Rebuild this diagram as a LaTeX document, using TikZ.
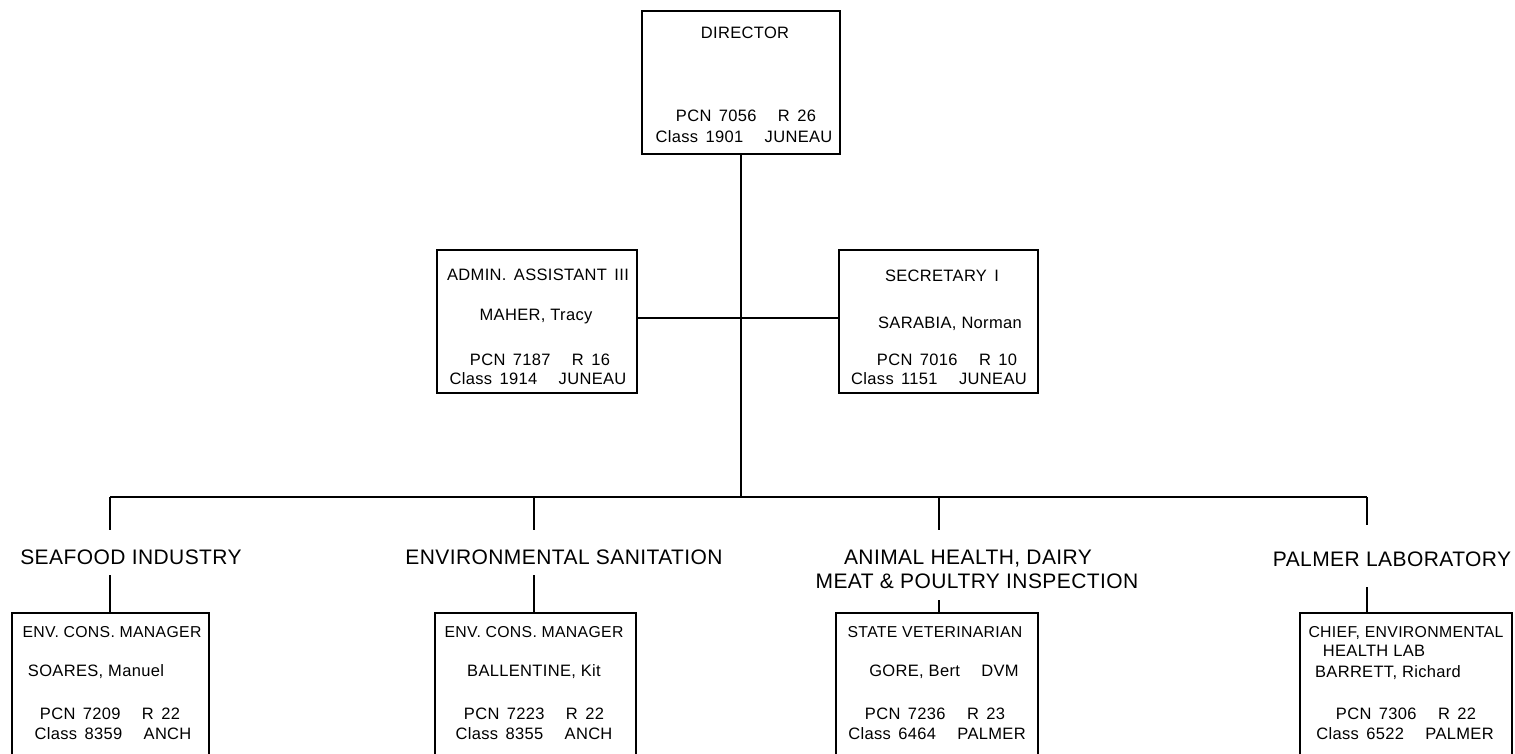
\documentclass[tikz,border=0pt]{standalone}
\usepackage{fontspec}
\setmainfont{Liberation Sans}[LetterSpace=2]
\newcommand\sepg{\hspace{1.3em}}
\newcommand\nsp{\hspace{0.45em}}
\begin{document}
\begin{tikzpicture}[x=1pt,y=-1pt,
  line width=1.4pt,
  box/.style={draw, line width=1.4pt, inner sep=0pt},
  bt/.style={font=\fontsize{16.5}{18}\selectfont, inner sep=0pt, anchor=base},
  btn/.style={font=\fontsize{15.8}{18}\selectfont, inner sep=0pt, anchor=base},
  lbl/.style={font=\fontsize{21}{25}\selectfont, inner sep=0pt, anchor=base},
  wire/.style={draw, line width=1.4pt}
]
\clip (0,0) rectangle (1515,754);
\fill[white] (0,0) rectangle (1515,754);

% ---------- boxes ----------
\node[box, minimum width=198pt, minimum height=143pt] (dir) at (741,82.5) {};
\node[box, minimum width=200pt, minimum height=143pt] (adm) at (537,321.5) {};
\node[box, minimum width=199pt, minimum height=143pt] (sec) at (938.5,321.5) {};
\node[box, minimum width=197pt, minimum height=187pt] (bx1) at (110.5,706.5) {};
\node[box, minimum width=201pt, minimum height=187pt] (bx2) at (535.5,706.5) {};
\node[box, minimum width=202pt, minimum height=187pt] (bx3) at (937,706.5) {};
\node[box, minimum width=212pt, minimum height=187pt] (bx4) at (1406,706.5) {};

% ---------- box texts ----------
\node[bt] (dirT) at (745,39) {DIRECTOR};
\node[bt] (dirP) at (746,122) {PCN\nsp 7056\sepg R\nsp 26};
\node[bt] (dirC) at (744,143) {Class\nsp 1901\sepg JUNEAU};

\node[bt] (admT) at (538,280) {ADMIN.\nsp ASSISTANT\nsp III};
\node[bt] (admN) at (536,320) {MAHER, Tracy};
\node[bt] (admP) at (540,365) {PCN\nsp 7187\sepg R\nsp 16};
\node[bt] (admC) at (538,384) {Class\nsp 1914\sepg JUNEAU};

\node[bt] (secT) at (942,281) {SECRETARY\nsp I};
\node[bt] (secN) at (950,328) {SARABIA, Norman};
\node[bt] (secP) at (947,365) {PCN\nsp 7016\sepg R\nsp 10};
\node[bt] (secC) at (939,384) {Class\nsp 1151\sepg JUNEAU};

\node[btn] (b1T) at (112,637) {ENV.\ CONS.\ MANAGER};
\node[bt] (b1N) at (96,676) {SOARES, Manuel};
\node[bt] (b1P) at (110,719) {PCN\nsp 7209\sepg R\nsp 22};
\node[bt] (b1C) at (113,739) {Class\nsp 8359\sepg ANCH};

\node[btn] (b2T) at (534,637) {ENV.\ CONS.\ MANAGER};
\node[bt] (b2N) at (534,676) {BALLENTINE, Kit};
\node[bt] (b2P) at (534,719) {PCN\nsp 7223\sepg R\nsp 22};
\node[bt] (b2C) at (534,739) {Class\nsp 8355\sepg ANCH};

\node[btn] (b3T) at (935,637) {STATE VETERINARIAN};
\node[bt] (b3N) at (944,676) {GORE, Bert\sepg DVM};
\node[bt] (b3P) at (935,719) {PCN\nsp 7236\sepg R\nsp 23};
\node[bt] (b3C) at (937,739) {Class\nsp 6464\sepg PALMER};

\node[btn] (b4T) at (1406,637) {CHIEF, ENVIRONMENTAL};
\node[bt] (b4H) at (1374,656) {HEALTH LAB};
\node[bt] (b4N) at (1388,677) {BARRETT, Richard};
\node[bt] (b4P) at (1406,719) {PCN\nsp 7306\sepg R\nsp 22};
\node[bt] (b4C) at (1405,739) {Class\nsp 6522\sepg PALMER};

% ---------- division labels ----------
\node[lbl] (l1) at (131,564) {SEAFOOD INDUSTRY};
\node[lbl] (l2) at (564,564) {ENVIRONMENTAL SANITATION};
\node[lbl] (l3a) at (968,564) {ANIMAL HEALTH, DAIRY};
\node[lbl] (l3b) at (977,588) {MEAT \& POULTRY INSPECTION};
\node[lbl] (l4) at (1392,566) {PALMER LABORATORY};

% ---------- bus coordinates ----------
\coordinate (bD) at (741,497);
\coordinate (b1) at (110,497);
\coordinate (b2) at (534,497);
\coordinate (b3) at (939,497);
\coordinate (b4) at (1367,497);
\coordinate (t1) at (110,530);
\coordinate (t2) at (534,530);
\coordinate (t3) at (939,530);
\coordinate (t4) at (1367,525);
\coordinate (u1) at (110,575);
\coordinate (u2) at (534,575);
\coordinate (u3) at (939,600);
\coordinate (u4) at (1367,587);

% ---------- connectors ----------
\draw[wire] (dir.south -| bD) -- (bD);
\draw[wire] ([yshift=3.5pt]adm.east) -- ([yshift=3.5pt]sec.west);
\draw[wire] (b1) -- (b4);
\draw[wire] (b1) -- (t1);
\draw[wire] (b2) -- (t2);
\draw[wire] (b3) -- (t3);
\draw[wire] (b4) -- (t4);
\draw[wire] (u1) -- (u1 |- bx1.north);
\draw[wire] (u2) -- (u2 |- bx2.north);
\draw[wire] (u3) -- (u3 |- bx3.north);
\draw[wire] (u4) -- (u4 |- bx4.north);
\end{tikzpicture}
\end{document}
